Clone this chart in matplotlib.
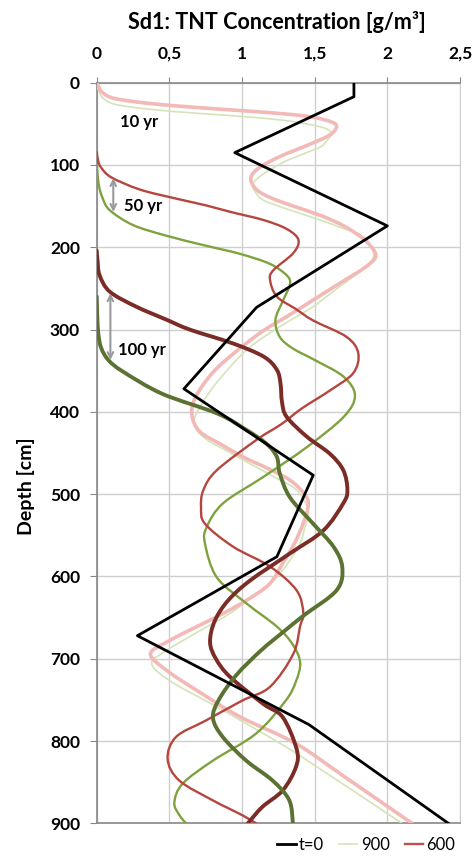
import matplotlib
matplotlib.use('agg')
import matplotlib.pyplot as plt
import numpy as np
from matplotlib.path import Path
from matplotlib.patches import PathPatch
from matplotlib.lines import Line2D

plt.rcParams['font.family'] = ['Lato', 'DejaVu Sans']

# concentration [g/m3] vs depth [cm]
t0_conc = [1.77, 1.77, 0.95, 2.0, 1.10, 0.60, 1.49, 1.24, 0.28, 1.46, 2.42]
t0_depth = [0, 17, 85, 174, 273, 372, 477, 576, 672, 780, 900]

# 10 yr, 600
y10_600_conc = [0, 0.01, 0.04, 0.12, 0.35, 0.68, 1.0, 1.30, 1.49, 1.62, 1.65, 1.60, 1.45, 1.27, 1.12,
                1.06, 1.10, 1.20, 1.37, 1.55, 1.71, 1.85, 1.92, 1.85, 1.67, 1.49, 1.32, 1.15, 0.97,
                0.80, 0.68, 0.655, 0.71, 0.86, 1.01, 1.18, 1.33, 1.43, 1.456, 1.42, 1.36, 1.28, 1.19,
                1.04, 0.87, 0.70, 0.50, 0.37, 0.48, 0.72, 0.99, 1.37, 1.71, 2.17]
y10_600_depth = [0, 4, 12, 19, 25, 30, 34, 38, 42, 48, 54, 64, 76, 89, 103,
                 116, 130, 140, 151, 162, 175, 192, 210, 224, 244, 264, 283, 301, 325,
                 352, 382, 404, 424, 440, 455, 469, 483, 500, 513, 536, 560, 584, 609,
                 628, 645, 660, 678, 694, 714, 742, 771, 803, 844, 900]

# 10 yr, 900
y10_900_conc = [0, 0.01, 0.04, 0.12, 0.35, 0.68, 1.0, 1.30, 1.47, 1.58, 1.617, 1.58, 1.54, 1.40, 1.27,
                1.13, 1.074, 1.10, 1.15, 1.30, 1.49, 1.68, 1.84, 1.905, 1.79, 1.64, 1.49, 1.32, 1.15,
                1.03, 0.92, 0.78, 0.67, 0.73, 0.89, 1.055, 1.22, 1.376, 1.456, 1.43, 1.388, 1.239,
                1.08, 0.917, 0.70, 0.48, 0.378, 0.505, 0.77, 1.03, 1.40, 2.10]
y10_900_depth = [0, 8, 18, 26, 32, 37, 41, 46, 51, 56, 62, 71, 78, 88, 98,
                 113, 124, 135, 143, 153, 164, 176, 188, 211, 232, 252, 272, 290, 309,
                 325, 345, 375, 410, 430, 447, 463, 479, 495, 520, 542, 564, 601,
                 623, 645, 667, 690, 706, 727, 753, 779, 818, 900]

# 50 yr, 600
y50_600_conc = [0, 0.01, 0.03, 0.10, 0.30, 0.55, 0.75, 0.92, 1.15, 1.31, 1.388, 1.353, 1.215, 1.193,
                1.24, 1.37, 1.49, 1.72, 1.80, 1.765, 1.605, 1.41, 1.27, 1.10, 0.826, 0.734, 0.718,
                0.745, 0.94, 1.193, 1.376, 1.422, 1.40, 1.353, 1.193, 1.0, 0.752, 0.546, 0.488,
                0.568, 0.798, 1.0, 1.097]
y50_600_depth = [84, 95, 103, 115, 130, 141, 149, 157, 167, 178, 191, 207, 228, 240,
                 260, 275, 289, 309, 329, 353, 374, 396, 415, 434, 471, 495, 516,
                 536, 564, 588, 617, 645, 660, 694, 734, 751, 775, 795, 822,
                 848, 872, 890, 900]

# 50 yr, 900
y50_900_conc = [0, 0.003, 0.015, 0.04, 0.09, 0.25, 0.48, 0.75, 0.986, 1.19, 1.307, 1.33, 1.284, 1.23,
                1.26, 1.35, 1.50, 1.697, 1.777, 1.70, 1.445, 1.147, 0.87, 0.757, 0.745, 0.826,
                1.032, 1.24, 1.35, 1.40, 1.37, 1.30, 1.096, 0.798, 0.59, 0.534, 0.569, 0.614]
y50_900_depth = [86, 105, 125, 140, 155, 173, 186, 198, 208, 220, 234, 245, 264, 288,
                 309, 323, 337, 357, 380, 406, 443, 479, 511, 540, 560, 601,
                 633, 661, 683, 705, 728, 751, 791, 824, 852, 875, 890, 900]

# 100 yr, 600
y100_600_conc = [0, 0.005, 0.02, 0.09, 0.27, 0.48, 0.64, 0.94, 1.15, 1.24, 1.265, 1.275, 1.307, 1.445,
                 1.605, 1.697, 1.725, 1.697, 1.56, 1.33, 1.055, 0.90, 0.81, 0.78, 0.82, 0.917, 1.147,
                 1.28, 1.376, 1.37, 1.28, 1.14, 1.04]
y100_600_depth = [204, 215, 234, 254, 272, 288, 300, 317, 333, 349, 366, 388, 406, 430,
                  451, 471, 495, 511, 544, 572, 605, 630, 655, 680, 700, 722, 755,
                  771, 810, 832, 860, 880, 900]

# 100 yr, 900
y100_900_conc = [0, 0.004, 0.011, 0.03, 0.08, 0.18, 0.45, 0.83, 1.03, 1.17, 1.24, 1.26, 1.33, 1.49,
                 1.63, 1.69, 1.65, 1.42, 1.28, 1.13, 0.96, 0.84, 0.80, 0.867, 1.03, 1.21, 1.325, 1.35]
y100_900_depth = [260, 285, 305, 322, 337, 351, 378, 402, 422, 439, 455, 475, 504, 536,
                  564, 589, 617, 648, 668, 690, 720, 750, 772, 795, 824, 848, 872, 900]

x_ticks = [0, 0.5, 1, 1.5, 2, 2.5]
x_labels = ['0', '0,5', '1', '1,5', '2', '2,5']
y_ticks = [0, 100, 200, 300, 400, 500, 600, 700, 800, 900]


def smooth_path(x, y):
    # excel-like smoothed line through the points (catmull-rom as bezier)
    pts = np.column_stack([x, y]).astype(float)
    p = np.vstack([pts[0], pts, pts[-1]])
    verts = [pts[0]]
    codes = [Path.MOVETO]
    for i in range(1, len(p) - 2):
        p0, p1, p2, p3 = p[i - 1], p[i], p[i + 1], p[i + 2]
        verts += [p1 + (p2 - p0) / 6, p2 - (p3 - p1) / 6, p2]
        codes += [Path.CURVE4] * 3
    return Path(verts, codes)


fig = plt.figure(figsize=(4.76, 8.57), dpi=100)
ax = fig.add_axes([0.2032, 0.0393, 0.7632, 0.8642])

curves = [
    (y10_900_conc, y10_900_depth, '#d5e4b8', 1.2),
    (y10_600_conc, y10_600_depth, '#f2b9b7', 2.6),
    (y50_900_conc, y50_900_depth, '#7fa23e', 1.7),
    (y50_600_conc, y50_600_depth, '#b5453f', 1.7),
    (y100_600_conc, y100_600_depth, '#7b2c26', 2.8),
    (y100_900_conc, y100_900_depth, '#5b7232', 2.8),
]
for xs, ys, col, lw in curves:
    ax.add_patch(PathPatch(smooth_path(xs, ys), fill=False, edgecolor=col, lw=lw,
                           capstyle='round', joinstyle='round', zorder=3))

ax.plot(t0_conc, t0_depth, color='black', lw=2, zorder=4)

ax.set_xlim(0, 2.5)
ax.set_ylim(900, 0)
ax.xaxis.tick_top()
ax.set_xticks(x_ticks)
ax.set_xticklabels(x_labels)
ax.set_yticks(y_ticks)
ax.grid(True, color='#cfcfcf', lw=1)
ax.set_axisbelow(True)
ax.tick_params(axis='x', length=4, pad=11, labelsize=12.5, color='#888888')
ax.tick_params(axis='y', length=5, pad=7, labelsize=12.5, color='#888888')
for lab in ax.get_xticklabels() + ax.get_yticklabels():
    lab.set_fontweight('bold')
for side in ['left', 'top', 'bottom']:
    ax.spines[side].set_color('#888888')
    ax.spines[side].set_linewidth(1.2)
ax.spines['right'].set_color('#cfcfcf')

ax.set_ylabel('Depth [cm]', fontsize=14, fontweight='bold')
ax.yaxis.set_label_coords(-0.17, 0.455)

fig.text(0.582, 0.974, 'Sd1: TNT Concentration [g/m³]', ha='center', va='center',
         fontsize=15.5, fontweight='bold')

# period labels and arrows
ax.text(0.29, 48, '10 yr', ha='center', va='center', fontsize=12, fontweight='bold')
ax.text(0.32, 150, '50 yr', ha='center', va='center', fontsize=12, fontweight='bold')
ax.text(0.31, 325, '100 yr', ha='center', va='center', fontsize=12, fontweight='bold')
arrow = dict(arrowstyle='<->', color='#9a9a9a', lw=1.5, shrinkA=0, shrinkB=0)
ax.annotate('', xy=(0.114, 116), xytext=(0.114, 157), arrowprops=arrow)
ax.annotate('', xy=(0.094, 256), xytext=(0.094, 337), arrowprops=arrow)

handles = [Line2D([], [], color='black', lw=2),
           Line2D([], [], color='#d5e4b8', lw=1.2),
           Line2D([], [], color='#c0504d', lw=1.7)]
fig.legend(handles, ['t=0', '900', '600'], loc='center right', bbox_to_anchor=(0.97, 0.014),
           ncol=3, frameon=False, fontsize=12, handlelength=1.1, handletextpad=0.2,
           columnspacing=0.9, borderaxespad=0)

fig.savefig('out.png', dpi=100)
